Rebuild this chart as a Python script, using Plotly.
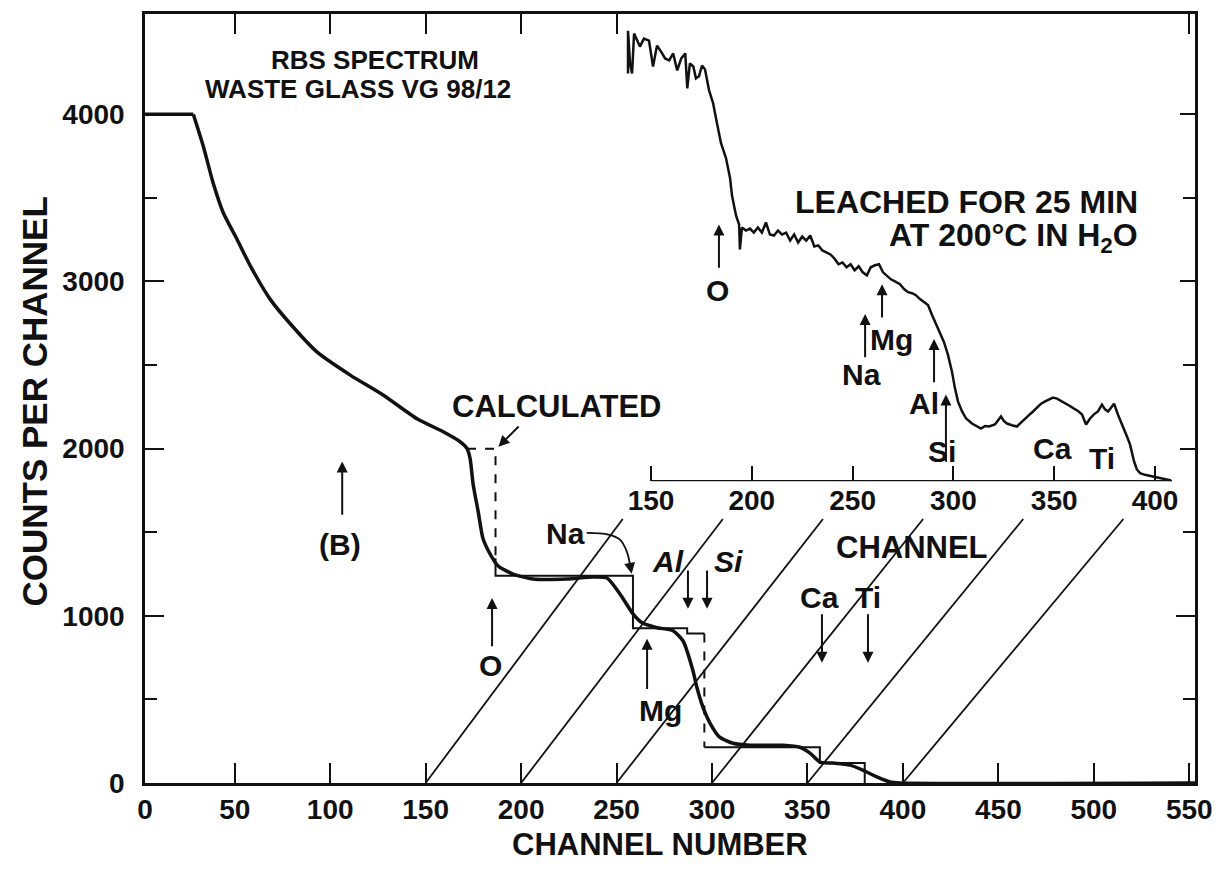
import plotly.graph_objects as go

# ---- main RBS spectrum (counts per channel vs channel number) ----
spec_channel = [3, 28.3, 33.5, 38.7, 44, 51.3, 58.1, 68.6, 80, 93.2,
                110.5, 127.7, 145.5, 159.2, 168, 171.7, 173.3, 174.9, 177.5, 180,
                183.8, 188, 195.8, 206.3, 224, 237.7, 245, 251.8, 258.6, 263.4,
                271.2, 279.6, 284.8, 290, 292.1, 295.3, 299, 304, 311, 319.9,
                337.2, 346, 351.3, 356.5, 363.4, 372.3, 379, 386.4, 393.2, 398.4,
                553]
spec_counts = [4000, 4000, 3810, 3589, 3411, 3250, 3095, 2893, 2735, 2577,
               2440, 2321, 2179, 2101, 2042, 2000, 1940, 1786, 1625, 1464,
               1369, 1298, 1250, 1220, 1220, 1232, 1226, 1131, 1012, 958,
               929, 911, 851, 673, 571, 452, 357, 274, 238, 226,
               226, 214, 179, 125, 119, 107, 77, 36, 6, 0,
               0]

# ---- calculated step spectrum: edge channels and plateau heights ----
calc_edges = [171.7, 186.6, 258.6, 287, 296, 356.5, 380]
calc_levels = [2000, 1240, 925, 895, 214, 119, 0]
calc_o_break = 1345      # lower end of the dashed O step

# ---- inset: spectrum after leaching ----
leach_channel = [138.6, 138.6, 139.6, 140.6, 141.6, 142.6, 144.5, 146.5, 149, 151,
                 153, 155, 157, 159, 161, 163, 165, 167, 168, 169.3,
                 171, 172.3, 173.8, 175.3, 176.8, 178.8, 180.8, 182.7, 184.7, 187.2,
                 189.2, 190.2, 192.2, 193.7, 194.1, 195.1, 197.1, 199.1, 201, 203,
                 205, 207, 209, 211, 213, 215, 217, 219, 221, 223,
                 225, 227, 229, 231, 233, 235, 237, 239, 241, 243,
                 245, 247, 249, 251, 253, 255, 257.1, 259, 261.1, 263.1,
                 265.1, 267, 269, 271, 273.5, 275.5, 277.5, 279.5, 281.4, 283.4,
                 285.4, 287.4, 289.4, 292.4, 295.3, 297.3, 299.3, 300.8, 302.3, 304.3,
                 306.3, 309.2, 311.5, 313.7, 315.7, 317.7, 320.6, 322, 323.6, 325,
                 326.6, 329, 331.5, 333.5, 335.5, 337.5, 339.5, 341.5, 343.5, 345.5,
                 347.4, 349.4, 351.4, 353.6, 355.9, 357.8, 359.8, 361.8, 363.8, 365.8,
                 367.8, 369.7, 371.7, 373.7, 375.2, 376.7, 378.2, 379.7, 381.6, 383,
                 384.6, 386, 387.6, 389.6, 391, 392.6, 395, 398, 400, 402,
                 404, 406, 408]
leach_counts = [2440, 2696, 2500, 2440, 2679, 2649, 2601, 2649, 2637, 2482,
                2607, 2571, 2530, 2518, 2560, 2458, 2530, 2560, 2351, 2500,
                2482, 2411, 2423, 2488, 2464, 2339, 2262, 2143, 2024, 1934,
                1815, 1708, 1589, 1536, 1387, 1518, 1500, 1512, 1488, 1518,
                1488, 1548, 1476, 1470, 1500, 1476, 1488, 1440, 1476, 1428,
                1464, 1440, 1470, 1405, 1411, 1381, 1369, 1357, 1333, 1298,
                1309, 1280, 1298, 1262, 1286, 1250, 1232, 1280, 1292, 1298,
                1250, 1232, 1208, 1196, 1179, 1150, 1131, 1125, 1113, 1090,
                1071, 1054, 994, 911, 833, 756, 655, 554, 476, 417,
                375, 345, 330, 315, 330, 327, 339, 360, 387, 360,
                345, 335, 327, 350, 375, 395, 417, 440, 464, 478,
                488, 500, 494, 480, 464, 450, 434, 420, 399, 339,
                375, 400, 417, 458, 430, 417, 440, 464, 399, 360,
                315, 270, 220, 119, 70, 48, 38, 30, 22, 18,
                12, 6, 4]

main_x_ticks = [50, 100, 150, 200, 250, 300, 350, 400, 450, 500, 550]
main_y_ticks = [0, 1000, 2000, 3000, 4000]
main_y_minor = [500, 1500, 2500, 3500]
inset_x_ticks = [150, 200, 250, 300, 350, 400]

# axis geometry
X_RANGE = [3, 553]
Y_RANGE = [0, 4600]
X2_DOMAIN = [0.45238, 0.98571]
X2_RANGE = [134.62, 412.4]
Y2_DOMAIN = [0.3925, 1.0]
Y2_RANGE = [0, 2796]
INSET_AXIS_END = 408.4
CONNECTOR_TOP = 0.8746   # fraction of the way up to the inset axis

FONT = "Liberation Sans, Arial, sans-serif"
INK = "#111111"
LABEL = 30

fig = go.Figure()

# calculated steps: solid and dashed pieces
e, lv = calc_edges, calc_levels
solid_a_x = [e[1], e[1], e[2], e[2], e[3], e[3], e[4]]
solid_a_y = [calc_o_break, lv[1], lv[1], lv[2], lv[2], lv[3], lv[3]]
solid_b_x = [e[4], e[5], e[5], e[6], e[6]]
solid_b_y = [lv[4], lv[4], lv[5], lv[5], lv[6]]
dash_a_x = [e[0], e[1], e[1]]
dash_a_y = [lv[0], lv[0], calc_o_break]
dash_b_x = [e[4], e[4]]
dash_b_y = [lv[3], lv[4]]

for xs, ys, dash in [(solid_a_x, solid_a_y, "solid"), (solid_b_x, solid_b_y, "solid"),
                     (dash_a_x, dash_a_y, "dash"), (dash_b_x, dash_b_y, "dash")]:
    fig.add_trace(go.Scatter(x=xs, y=ys, mode="lines",
                             line=dict(color=INK, width=2, dash=dash),
                             hoverinfo="skip", showlegend=False))

# measured spectrum: flat saturated top, then the smooth falling part
fig.add_trace(go.Scatter(x=spec_channel[:2], y=spec_counts[:2], mode="lines",
                         line=dict(color=INK, width=3.5), hoverinfo="skip",
                         showlegend=False))
fig.add_trace(go.Scatter(x=spec_channel[1:], y=spec_counts[1:], mode="lines",
                         line=dict(color=INK, width=3.5, shape="spline", smoothing=0.6),
                         hoverinfo="skip", showlegend=False))

# inset spectrum and its channel axis
fig.add_trace(go.Scatter(x=leach_channel, y=leach_counts, mode="lines",
                         line=dict(color=INK, width=2.5), xaxis="x2", yaxis="y2",
                         hoverinfo="skip", showlegend=False))
fig.add_trace(go.Scatter(x=[inset_x_ticks[0], INSET_AXIS_END], y=[0, 0], mode="lines",
                         line=dict(color=INK, width=2.5), xaxis="x2", yaxis="y2",
                         hoverinfo="skip", showlegend=False))

# connectors from inset channel ticks to the main channel axis
def main_px(ch):
    return (ch - X_RANGE[0]) / (X_RANGE[1] - X_RANGE[0])

def inset_px(ch):
    return X2_DOMAIN[0] + (ch - X2_RANGE[0]) / (X2_RANGE[1] - X2_RANGE[0]) * (X2_DOMAIN[1] - X2_DOMAIN[0])

shapes = []
for ch in inset_x_ticks:
    x0, y0 = main_px(ch), 0.0
    x1, y1 = inset_px(ch), Y2_DOMAIN[0]
    shapes.append(dict(type="line", xref="paper", yref="paper",
                       x0=x0, y0=y0,
                       x1=x0 + (x1 - x0) * CONNECTOR_TOP, y1=y0 + (y1 - y0) * CONNECTOR_TOP,
                       line=dict(color=INK, width=1.8)))

# curved pointer from the Na label
na_curve_x = [234.4, 245.7, 251.8, 255.3, 257.0]
na_curve_y = [1496, 1486, 1456, 1387, 1308]
fig.add_trace(go.Scatter(x=na_curve_x, y=na_curve_y, mode="lines",
                         line=dict(color=INK, width=1.8, shape="spline"),
                         hoverinfo="skip", showlegend=False))

ann = []

def text(t, x, y, size=LABEL, ref="", italic=False, xanchor="center"):
    ann.append(dict(text=t, x=x, y=y, xref="x" + ref, yref="y" + ref,
                    showarrow=False, xanchor=xanchor, yanchor="middle",
                    font=dict(family=FONT, size=size, color=INK, weight="bold",
                              style="italic" if italic else "normal")))

def pointer(x, y, ax, ay, ref=""):
    ann.append(dict(text="", x=x, y=y, ax=ax, ay=ay, xref="x" + ref, yref="y" + ref,
                    axref="x" + ref, ayref="y" + ref, showarrow=True,
                    arrowhead=2, arrowsize=1.1, arrowwidth=2, arrowcolor=INK))

# main-panel labels
text("RBS SPECTRUM", 123.6, 4327, size=26)
text("WASTE GLASS VG 98/12", 114.7, 4149, size=26)
text("CALCULATED", 218.8, 2250, size=31)
pointer(188.1, 2012, 199.5, 2141)
text("(B)", 105.2, 1428)
pointer(106.3, 1923, 106.3, 1595)
text("O", 183.8, 702)
pointer(184.8, 1107, 184.8, 809)
text("Na", 223, 1494)
pointer(257.9, 1252, 257.0, 1308)
text("Al", 277, 1327, italic=True)
pointer(287.4, 1042, 287.4, 1280)
text("Si", 308.4, 1327, italic=True)
pointer(297.4, 1042, 297.4, 1280)
text("Mg", 272.8, 435)
pointer(266, 863, 266, 554)
text("Ca", 356.5, 1107)
pointer(357.6, 720, 357.6, 1018)
text("Ti", 381.7, 1107)
pointer(381.7, 720, 381.7, 1018)
text("CHANNEL", 404.7, 1411, size=31)

# inset labels
text("LEACHED FOR 25 MIN", 392.6, 1668, size=32, ref="2", xanchor="right")
text("AT 200°C IN H<sub>2</sub>O", 392.6, 1458, size=32, ref="2", xanchor="right")
text("O", 183.2, 1143, ref="2")
pointer(183.7, 1536, 183.7, 1268, ref="2")
text("Na", 254.2, 637, ref="2")
pointer(256.2, 1000, 256.2, 732, ref="2")
text("Mg", 269.5, 845, ref="2")
pointer(264.6, 1179, 264.6, 970, ref="2")
text("Al", 285.4, 464, ref="2")
pointer(290.4, 851, 290.4, 583, ref="2")
text("Si", 294.3, 179, ref="2")
pointer(296.3, 518, 296.3, 107, ref="2")
text("Ca", 349.4, 196, ref="2")
text("Ti", 373.7, 137, ref="2")

# axis titles
ann.append(dict(text="COUNTS PER CHANNEL", x=-0.1048, y=0.496, xref="paper", yref="paper",
                showarrow=False, textangle=-90, xanchor="center", yanchor="middle",
                font=dict(family=FONT, size=35, color=INK, weight="bold")))
ann.append(dict(text="CHANNEL NUMBER", x=0.4905, y=-0.0803, xref="paper", yref="paper",
                showarrow=False, xanchor="center", yanchor="middle",
                font=dict(family=FONT, size=31, color=INK, weight="bold")))

tickfont = dict(family=FONT, size=28, color=INK, weight="bold")

fig.update_layout(
    width=1231, height=869,
    margin=dict(l=145, r=36, t=11, b=86),
    paper_bgcolor="white", plot_bgcolor="white",
    font=dict(family=FONT, color=INK),
    shapes=shapes, annotations=ann,
    xaxis=dict(range=X_RANGE, domain=[0, 1],
               tickvals=[X_RANGE[0]] + main_x_ticks,
               ticktext=["0"] + [str(v) for v in main_x_ticks],
               ticks="inside", ticklen=20, tickwidth=2, tickcolor=INK,
               showline=True, linewidth=2.5, linecolor=INK, mirror="ticks",
               showgrid=False, zeroline=False, tickfont=tickfont),
    yaxis=dict(range=Y_RANGE, domain=[0, 1],
               tickvals=main_y_ticks,
               ticks="inside", ticklen=19, tickwidth=2, tickcolor=INK,
               minor=dict(tickvals=main_y_minor, ticks="inside", ticklen=12,
                          tickwidth=2, tickcolor=INK),
               showline=True, linewidth=2.5, linecolor=INK, mirror="ticks",
               showgrid=False, zeroline=False, tickfont=tickfont,
               ticklabelstandoff=12),
    xaxis2=dict(range=X2_RANGE, domain=X2_DOMAIN, anchor="y2",
                tickvals=inset_x_ticks, ticks="inside", ticklen=15, tickwidth=2,
                tickcolor=INK, showline=False, showgrid=False, zeroline=False,
                tickfont=tickfont),
    yaxis2=dict(range=Y2_RANGE, domain=Y2_DOMAIN, anchor="x2", visible=False),
)

fig.write_html("out.html")
